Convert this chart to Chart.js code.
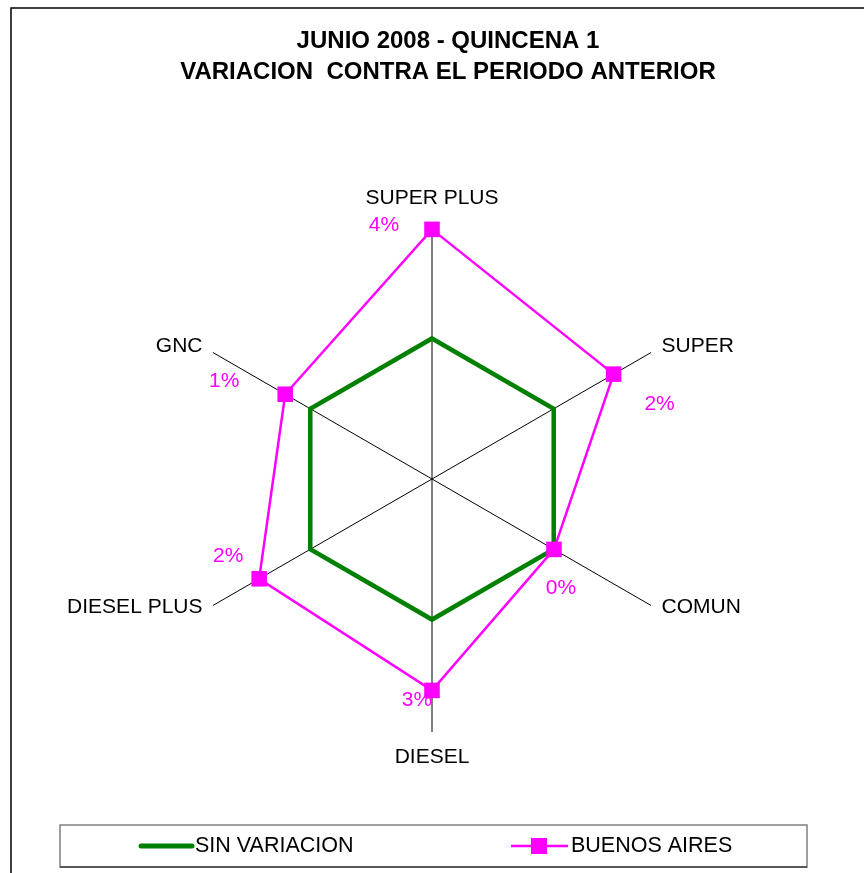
<!DOCTYPE html>
<html>
<head>
<meta charset="utf-8">
<script src="https://cdn.jsdelivr.net/npm/chart.js@4/dist/chart.umd.min.js"></script>
<style>
html,body{margin:0;padding:0;background:#fff;}
#wrap{width:864px;height:873px;position:relative;}
</style>
</head>
<body>
<div id="wrap"><canvas id="c" width="864" height="873"></canvas></div>
<script>
// ---- data ----
const titleLines = ['JUNIO 2008 - QUINCENA 1', 'VARIACION  CONTRA EL PERIODO ANTERIOR'];
const categories = ['SUPER PLUS', 'SUPER', 'COMUN', 'DIESEL', 'DIESEL PLUS', 'GNC'];
const seriesNames = ['SIN VARIACION', 'BUENOS AIRES'];
const sinVariacion = [0, 0, 0, 0, 0, 0];
const buenosAires = [3.88, 2.46, 0.01, 2.52, 2.10, 1.03];
const axisMin = -5;
const axisMax = 4;

// ---- styles ----
const FONT = "'Liberation Sans', Arial, sans-serif";
const GREEN = '#008000';
const MAGENTA = '#FF00FF';
const labelOffsets = [[-48, -4], [46, 30], [7, 38.5], [-15, 10], [-31, -23], [-61, -13.5]];

const framePlugin = {
  id: 'frame',
  beforeDraw(chart) {
    const ctx = chart.ctx;
    ctx.save();
    ctx.fillStyle = '#fff';
    ctx.fillRect(0, 0, chart.width, chart.height);
    ctx.strokeStyle = '#000';
    ctx.lineWidth = 1.5;
    ctx.beginPath();
    ctx.moveTo(11, chart.height);
    ctx.lineTo(11, 8);
    ctx.lineTo(chart.width, 8);
    ctx.stroke();
    ctx.restore();
  }
};

const titlePlugin = {
  id: 'titleText',
  afterDraw(chart) {
    const ctx = chart.ctx;
    ctx.save();
    ctx.font = 'bold 24px ' + FONT;
    ctx.fillStyle = '#000';
    ctx.textAlign = 'center';
    ctx.textBaseline = 'middle';
    titleLines.forEach((t, i) => ctx.fillText(t, 448, 41.5 + i * 31));
    ctx.restore();
  }
};

const pointLabelPlugin = {
  id: 'ptLabels',
  afterDraw(chart) {
    const scale = chart.scales.r;
    const ctx = chart.ctx;
    const R = scale.drawingArea;
    ctx.save();
    ctx.font = '21px ' + FONT;
    ctx.fillStyle = '#000';
    ctx.textBaseline = 'middle';
    chart.data.labels.forEach((lab, i) => {
      const a = scale.getIndexAngle(i);
      const s = Math.sin(a), c = Math.cos(a);
      let p;
      if (Math.abs(s) < 0.01) {
        p = scale.getPointPosition(i, R + (c > 0 ? 28 : 25));
        ctx.textAlign = 'center';
        ctx.fillText(lab, p.x, p.y);
      } else {
        p = scale.getPointPosition(i, R + 12);
        ctx.textAlign = s > 0 ? 'left' : 'right';
        ctx.fillText(lab, p.x, p.y + (c < 0 ? -4 : 0));
      }
    });
    ctx.restore();
  }
};

const dataLabelPlugin = {
  id: 'dataLabels',
  afterDatasetsDraw(chart) {
    const ctx = chart.ctx;
    const meta = chart.getDatasetMeta(1);
    const ds = chart.data.datasets[1];
    ctx.save();
    ctx.font = '21px ' + FONT;
    ctx.fillStyle = MAGENTA;
    ctx.textAlign = 'center';
    ctx.textBaseline = 'middle';
    meta.data.forEach((pt, i) => {
      const off = labelOffsets[i];
      ctx.fillText(Math.round(ds.data[i]) + '%', pt.x + off[0], pt.y + off[1]);
    });
    ctx.restore();
  }
};

const legendPlugin = {
  id: 'boxLegend',
  afterDraw(chart) {
    const ctx = chart.ctx;
    ctx.save();
    ctx.lineWidth = 1.5;
    ctx.strokeStyle = '#808080';
    ctx.strokeRect(60, 825, 747, 42);
    ctx.strokeStyle = '#404040';
    ctx.beginPath(); ctx.moveTo(60, 867); ctx.lineTo(807, 867); ctx.stroke();
    const y = 846;
    const ds = chart.data.datasets;
    ctx.strokeStyle = ds[0].borderColor;
    ctx.lineWidth = 5;
    ctx.lineCap = 'round';
    ctx.beginPath(); ctx.moveTo(141, y); ctx.lineTo(192, y); ctx.stroke();
    ctx.strokeStyle = ds[1].borderColor;
    ctx.lineWidth = 2.5;
    ctx.lineCap = 'butt';
    ctx.beginPath(); ctx.moveTo(511, y); ctx.lineTo(568, y); ctx.stroke();
    ctx.fillStyle = ds[1].pointBackgroundColor;
    ctx.fillRect(531, y - 8, 16, 16);
    ctx.font = '21.5px ' + FONT;
    ctx.fillStyle = '#000';
    ctx.textAlign = 'left';
    ctx.textBaseline = 'middle';
    ctx.fillText(ds[0].label, 195, y);
    ctx.fillText(ds[1].label, 571, y);
    ctx.restore();
  }
};

new Chart(document.getElementById('c'), {
  type: 'radar',
  data: {
    labels: categories,
    datasets: [
      {
        label: seriesNames[0],
        data: sinVariacion,
        borderColor: GREEN,
        backgroundColor: GREEN,
        borderWidth: 4.5,
        pointRadius: 0,
        pointHoverRadius: 0,
        fill: false,
        tension: 0,
        order: 2
      },
      {
        label: seriesNames[1],
        data: buenosAires,
        borderColor: MAGENTA,
        backgroundColor: MAGENTA,
        pointBackgroundColor: MAGENTA,
        pointBorderColor: MAGENTA,
        borderWidth: 2.5,
        pointStyle: 'rect',
        pointRadius: 11,
        pointBorderWidth: 0,
        fill: false,
        tension: 0,
        order: 1
      }
    ]
  },
  options: {
    responsive: false,
    animation: false,
    devicePixelRatio: 1,
    layout: { padding: { top: 226, left: 0, right: 0, bottom: 141 } },
    plugins: {
      legend: { display: false },
      tooltip: { enabled: false },
      title: { display: false }
    },
    scales: {
      r: {
        min: axisMin,
        max: axisMax,
        ticks: { display: false, stepSize: 1 },
        grid: { display: false },
        angleLines: { display: true, color: '#000', lineWidth: 1 },
        pointLabels: { display: false }
      }
    }
  },
  plugins: [framePlugin, titlePlugin, pointLabelPlugin, dataLabelPlugin, legendPlugin]
});
</script>
</body>
</html>
